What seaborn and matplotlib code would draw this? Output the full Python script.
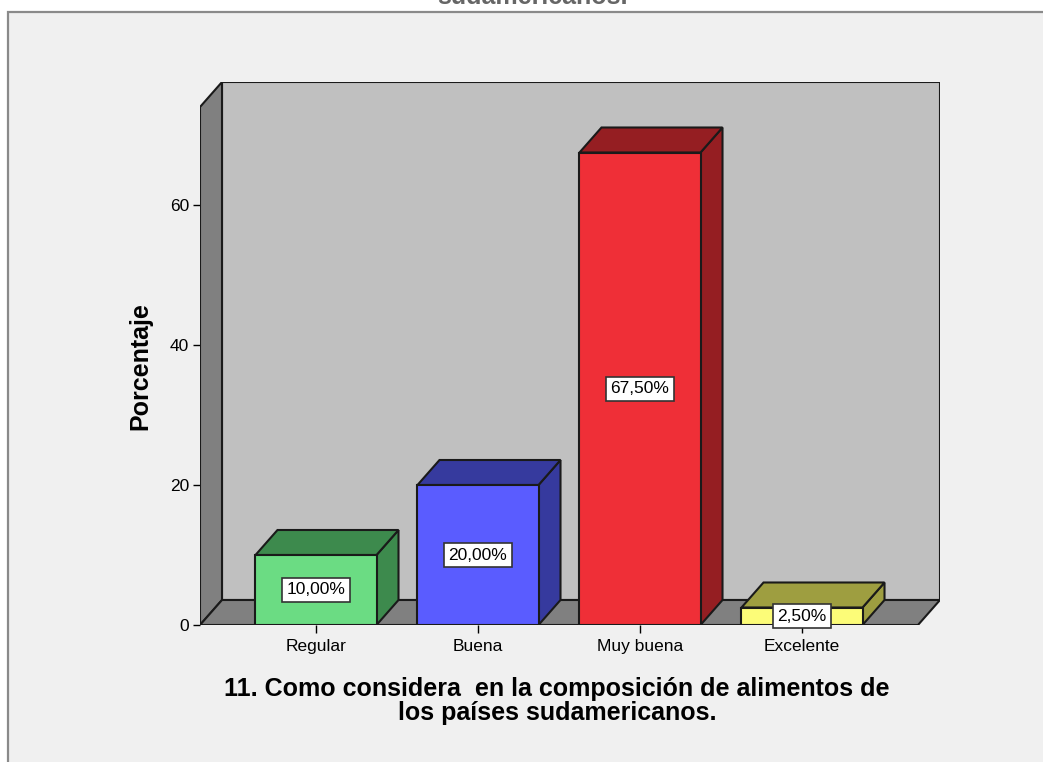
import seaborn as sns
import matplotlib.pyplot as plt
from matplotlib.patches import Polygon, Rectangle

# data
categorias = ['Regular', 'Buena', 'Muy buena', 'Excelente']
porcentajes = [10.0, 20.0, 67.5, 2.5]
yticks = [0, 20, 40, 60]

# front face / darker side+top colours
front_cols = ['#6bdc83', '#5a5cff', '#ef2f37', '#fcfc78']
dark_cols = ['#3d8a4d', '#363a9e', '#951e22', '#9e9e40']

sns.set_style('white')
plt.rcParams['font.family'] = ['Liberation Sans', 'DejaVu Sans']
plt.rcParams['text.color'] = 'black'
plt.rcParams['xtick.color'] = 'black'
plt.rcParams['ytick.color'] = 'black'

W, H = 1043, 762
fig = plt.figure(figsize=(W / 100, H / 100), dpi=100)
fig.patch.set_facecolor('white')

# grey chart frame (cut at right and bottom)
fig.patches.append(Rectangle((8 / W, -0.02), 1.05, 1 - 12 / H + 0.02,
                             transform=fig.transFigure, fc='#f0f0f0',
                             ec='#8a8a8a', lw=1.6, zorder=-5))

# axes: left at front-floor x=200px, right at back wall x=940px
ax = fig.add_axes([200 / W, (H - 625) / H, 740 / W, 543 / H])
ax.patch.set_visible(False)

sns.barplot(x=categorias, y=porcentajes, hue=categorias, palette=front_cols,
            width=0.747, edgecolor='#1a1a1a', linewidth=1.5, legend=False,
            saturation=1, ax=ax)

# depth offset in data units (22px across, 25px up)
dx = 22 / 162
dy = 25 / 7
xl = -0.716
xr = 3.716
ytop = 74

ax.set_xlim(xl, xr + dx)
ax.set_ylim(0, ytop + dy)

edge = dict(ec='#1a1a1a', lw=1.5, joinstyle='miter')
# back wall, side wall, floor
ax.add_patch(Polygon([(xl + dx, dy), (xr + dx, dy), (xr + dx, ytop + dy), (xl + dx, ytop + dy)],
                     fc='#c0c0c0', zorder=0.5, **edge))
ax.add_patch(Polygon([(xl, 0), (xl, ytop), (xl + dx, ytop + dy), (xl + dx, dy)],
                     fc='#808080', zorder=0.6, **edge))
ax.add_patch(Polygon([(xl, 0), (xr, 0), (xr + dx, dy), (xl + dx, dy)],
                     fc='#808080', zorder=0.6, **edge))

# 3d sides and tops of the bars + value boxes
for bar, val, dc in zip(ax.patches[:len(porcentajes)], porcentajes, dark_cols):
    bar.set_zorder(3)
    x0 = bar.get_x()
    x1 = x0 + bar.get_width()
    ax.add_patch(Polygon([(x1, 0), (x1, val), (x1 + dx, val + dy), (x1 + dx, dy)],
                         fc=dc, zorder=2, **edge))
    ax.add_patch(Polygon([(x0, val), (x1, val), (x1 + dx, val + dy), (x0 + dx, val + dy)],
                         fc=dc, zorder=2, **edge))
    ax.text((x0 + x1) / 2, val / 2, f'{val:.2f}%'.replace('.', ','),
            ha='center', va='center', fontsize=12.5, zorder=5,
            bbox=dict(boxstyle='square,pad=0.25', fc='white', ec='#333333', lw=1.2))

for s in ax.spines.values():
    s.set_visible(False)
ax.set_yticks(yticks)
ax.tick_params(axis='y', left=True, length=5, width=1, pad=3, labelsize=12.5)
ax.tick_params(axis='x', bottom=True, length=6, width=1, pad=4, labelsize=12.5)
ax.set_xlabel('')
ax.set_ylabel('')

fig.text(140 / W, 1 - 366 / H, 'Porcentaje', rotation=90, ha='center', va='center',
         fontsize=18, fontweight='bold')
fig.text(557 / W, 1 - 701 / H,
         '11. Como considera  en la composición de alimentos de\nlos países sudamericanos.',
         ha='center', va='center', ma='center', fontsize=18, fontweight='bold',
         linespacing=0.98)
# title mostly cut off at the top edge
fig.text(532 / W, 1 - 4 / H, 'sudamericanos.', ha='center', va='baseline',
         fontsize=18, fontweight='bold', color='#666666')

fig.savefig('out.png', dpi=100)
